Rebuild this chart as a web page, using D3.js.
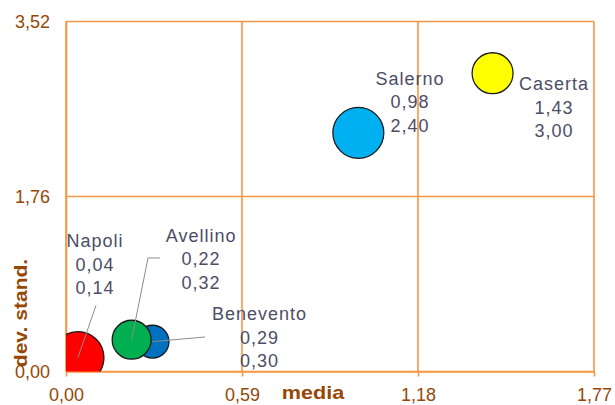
<!DOCTYPE html>
<html>
<head>
<meta charset="utf-8">
<script src="https://cdn.jsdelivr.net/npm/d3@7/dist/d3.min.js"></script>
<style>
  html, body { margin: 0; padding: 0; background: #fff; }
  svg { display: block; }
</style>
</head>
<body>
<svg id="chart" width="615" height="405"></svg>
<script>
// ---- data ----
const provinces = ["Benevento", "Avellino", "Napoli", "Salerno", "Caserta"];
const media     = [0.29, 0.22, 0.04, 0.98, 1.43];
const devStand  = [0.30, 0.32, 0.14, 2.40, 3.00];
const bubbleSize = [40, 56, 100, 96, 62];
const colors    = ["#0070c0", "#00b050", "#ff0000", "#00b0f0", "#ffff00"];
const xTicks = [0, 0.59, 1.18, 1.77];
const yTicks = [0, 1.76, 3.52];
const xTitle = "media";
const yTitle = "dev. stand.";

// ---- layout (label placement relative to bubble centre) ----
const labelLayout = {
  "Napoli":    { dx: 17,  dy: -110.5, leader: [[18, -52]] },
  "Avellino":  { dx: 69.5, dy: -98,   leader: [[28.4, -81.7], [16.4, -81.7]] },
  "Benevento": { dx: 107, dy: -21.5,  leader: [[52.5, -4.7]] },
  "Salerno":   { dx: 51.7, dy: -48,   leader: null },
  "Caserta":   { dx: 61.4, dy: 16.8,  leader: null }
};

const fmt = v => d3.format(".2f")(v).replace(".", ",");
const svg = d3.select("#chart");
const L = 66, R = 594, T = 21.5, B = 371.5;
const x = d3.scaleLinear().domain([0, 1.77]).range([L, R]);
const y = d3.scaleLinear().domain([0, 3.52]).range([B, T]);
const r = d3.scaleSqrt().domain([0, d3.max(bubbleSize)]).range([0, 26]);

const orange = "#f79646";
const tickColor = "#974706";
const labelColor = "#4d4d66";

// grid
const grid = svg.append("g");
grid.selectAll("line.v").data(xTicks).join("line")
  .attr("x1", d => x(d)).attr("x2", d => x(d))
  .attr("y1", T).attr("y2", B)
  .attr("stroke", orange).attr("stroke-width", 1.6);
grid.selectAll("line.h").data(yTicks).join("line")
  .attr("x1", L).attr("x2", R)
  .attr("y1", d => y(d)).attr("y2", d => y(d))
  .attr("stroke", orange).attr("stroke-width", 1.6);

// x axis
const xAxis = svg.append("g").attr("transform", `translate(0,${B})`)
  .call(d3.axisBottom(x).tickValues(xTicks).tickFormat(fmt).tickSizeInner(5).tickSizeOuter(0));
xAxis.select(".domain").attr("stroke", orange).attr("stroke-width", 1.6);
xAxis.selectAll(".tick line").attr("stroke", orange).attr("stroke-width", 1.6);
xAxis.selectAll(".tick text").attr("fill", tickColor)
  .style("font", "18px 'Liberation Sans', Arial, sans-serif").attr("dy", 0).attr("y", 29);

// y axis
const yAxis = svg.append("g").attr("transform", `translate(${L},0)`)
  .call(d3.axisLeft(y).tickValues(yTicks).tickFormat(fmt).tickSize(0).tickPadding(16));
yAxis.select(".domain").attr("stroke", orange).attr("stroke-width", 1.6);
yAxis.selectAll(".tick text").attr("fill", tickColor)
  .style("font", "18px 'Liberation Sans', Arial, sans-serif").attr("dy", "0.36em");

// clip
svg.append("clipPath").attr("id", "plotclip").append("rect")
  .attr("x", L).attr("y", T).attr("width", R - L).attr("height", B - T);

const idx = d3.range(provinces.length);
const bubbles = svg.append("g").attr("clip-path", "url(#plotclip)");
bubbles.selectAll("circle").data(idx).join("circle")
  .attr("cx", i => x(media[i])).attr("cy", i => y(devStand[i]))
  .attr("r", i => r(bubbleSize[i]))
  .attr("fill", i => colors[i])
  .attr("stroke", "#1a1a1a").attr("stroke-width", 1.3);

// leader lines
const leaders = svg.append("g");
idx.forEach(i => {
  const lay = labelLayout[provinces[i]];
  if (!lay.leader) return;
  const cx = x(media[i]), cy = y(devStand[i]);
  const pts = lay.leader.map(p => [cx + p[0], cy + p[1]]);
  pts.push([cx, cy]);
  leaders.append("path").attr("d", d3.line()(pts))
    .attr("fill", "none").attr("stroke", "#8c8c8c").attr("stroke-width", 1);
});

// data labels
const labels = svg.append("g");
idx.forEach(i => {
  const lay = labelLayout[provinces[i]];
  const cx = x(media[i]), cy = y(devStand[i]);
  const lines = [provinces[i], fmt(media[i]), fmt(devStand[i])];
  const t = labels.append("text")
    .attr("text-anchor", "middle")
    .attr("fill", labelColor)
    .style("font", "18px 'Liberation Sans', Arial, sans-serif")
    .style("letter-spacing", "1px");
  lines.forEach((s, k) => {
    t.append("tspan").attr("x", cx + lay.dx).attr("y", cy + lay.dy + k * 23.6).text(s);
  });
});

// axis titles
svg.append("g").attr("transform", `translate(313,399)`)
  .append("text").attr("text-anchor", "middle").attr("transform", "scale(1.2,1)")
  .attr("fill", tickColor)
  .style("font", "bold 18px 'Liberation Sans', Arial, sans-serif")
  .text(xTitle);
svg.append("g").attr("transform", `translate(27,313) rotate(-90)`)
  .append("text").attr("text-anchor", "middle").attr("transform", "scale(1.17,1)")
  .attr("fill", tickColor)
  .style("font", "bold 18px 'Liberation Sans', Arial, sans-serif")
  .text(yTitle);
</script>
</body>
</html>
